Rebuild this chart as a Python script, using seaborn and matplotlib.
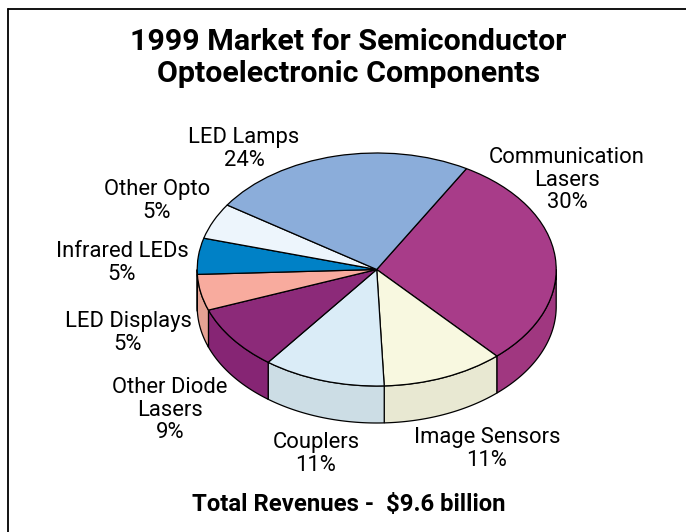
import numpy as np
import matplotlib
matplotlib.use("Agg")
import matplotlib.pyplot as plt
from matplotlib.patches import Polygon
import seaborn as sns

# Market share by component, clockwise from the upper right of the disc
categories = ["Communication\nLasers", "Image Sensors", "Couplers", "Other Diode\nLasers",
              "LED Displays", "Infrared LEDs", "Other Opto", "LED Lamps"]
shares = [30, 11, 11, 9, 5, 5, 5, 24]
top_colors = ["#A83C89", "#F8F8E0", "#DAECF7", "#8C2A79",
              "#F8AB9E", "#0081C6", "#EDF5FC", "#8BADDA"]
side_colors = ["#A03780", "#E8E8D2", "#CCDDE5", "#862574",
               "#E6A294", "#0077B8", "#DDE5EC", "#7F9FCA"]
title_lines = "1999 Market for Semiconductor\nOptoelectronic Components"
footer = "Total Revenues -  $9.6 billion"

W, H = 686, 532
CX, CY, RX, RY, DEPTH = 376.7, 269.5, 179.5, 116.5, 37.0
START_ANGLE = 60.0

sns.set_theme(style="white")
plt.rcParams["font.family"] = ["Roboto", "Liberation Sans", "DejaVu Sans"]

fig = plt.figure(figsize=(W / 100, H / 100), dpi=100, facecolor="white")
ax = fig.add_axes([0, 0, 1, 1])
palette = sns.color_palette(top_colors)

wedges, _ = ax.pie(shares, colors=palette, startangle=START_ANGLE, counterclock=False,
                   wedgeprops=dict(edgecolor="black", linewidth=0.9, zorder=3))

# Stretch the unit disc into the tilted ellipse
ax.set_aspect("auto")
ax.set_xlim((0 - CX) / RX, (W - CX) / RX)
ax.set_ylim((CY - H) / RY, CY / RY)
ax.set_axis_off()

# Side wall: the part of each slice's rim facing the viewer
depth = DEPTH / RY
boundaries = START_ANGLE - np.cumsum([0] + shares) * 3.6
for i, color in enumerate(side_colors):
    a0, a1 = boundaries[i], boundaries[i + 1]
    for shift in (0, -360):
        lo = max(a1 + shift, -180)
        hi = min(a0 + shift, 0)
        if hi <= lo:
            continue
        t = np.radians(np.linspace(hi, lo, 80))
        upper = np.column_stack([np.cos(t), np.sin(t)])
        lower = (upper + [0, -depth])[::-1]
        ax.add_patch(Polygon(np.vstack([upper, lower]), closed=True, facecolor=color,
                             edgecolor="black", linewidth=0.9, zorder=2))

LABEL_SIZE = 15.8
label_centres = [(567, 180), (487, 449), (316, 454), (170, 410),
                 (128, 333), (122, 263), (157, 201), (244, 149)]
for name, share, (x, y) in zip(categories, shares, label_centres):
    fig.text(x / W, 1 - y / H, f"{name}\n{share}%", ha="center", va="center",
             fontsize=LABEL_SIZE, color="black", linespacing=1.1, zorder=5)

fig.text(348.5 / W, 1 - 58 / H, title_lines, ha="center", va="center", fontsize=21.9,
         fontweight="bold", color="black", linespacing=1.18)
fig.text(349 / W, 1 - 505 / H, footer, ha="center", va="center", fontsize=17.2,
         fontweight="bold", color="black")

# Border running off the top right and bottom left
fig.add_artist(plt.Line2D([7.8 / W, 7.8 / W], [0, 1 - 9 / H], color="black", linewidth=1.3))
fig.add_artist(plt.Line2D([7.8 / W, 1], [1 - 9 / H, 1 - 9 / H], color="black", linewidth=1.3))

fig.savefig("out.png", dpi=100)
